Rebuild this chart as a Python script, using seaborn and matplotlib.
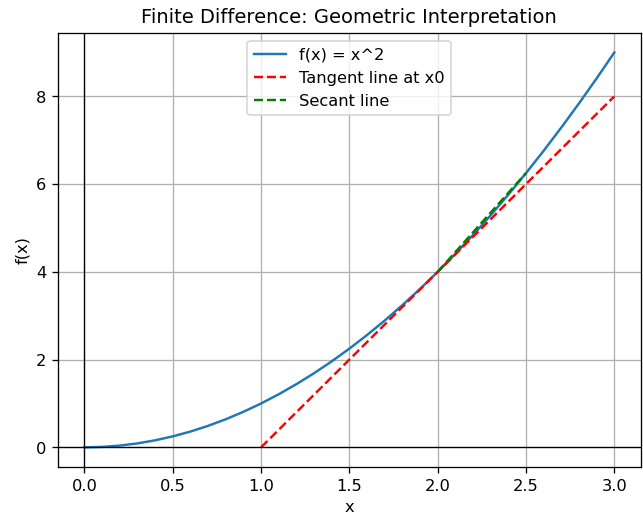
import numpy as np
import pandas as pd
import seaborn as sns
import matplotlib
matplotlib.use("Agg")
import matplotlib.pyplot as plt

# curve values (f(x) = x^2)
curve_x = [0.0, 0.1, 0.2, 0.3, 0.4, 0.5, 0.6, 0.7, 0.8, 0.9, 1.0,
           1.1, 1.2, 1.3, 1.4, 1.5, 1.6, 1.7, 1.8, 1.9, 2.0,
           2.1, 2.2, 2.3, 2.4, 2.5, 2.6, 2.7, 2.8, 2.9, 3.0]
curve_y = [0.0, 0.01, 0.04, 0.09, 0.16, 0.25, 0.36, 0.49, 0.64, 0.81, 1.0,
           1.21, 1.44, 1.69, 1.96, 2.25, 2.56, 2.89, 3.24, 3.61, 4.0,
           4.41, 4.84, 5.29, 5.76, 6.25, 6.76, 7.29, 7.84, 8.41, 9.0]

# tangent line at x0 = 2
tangent_x = [1.0, 3.0]
tangent_y = [0.0, 8.0]

# secant line from x0 to x0 + h
secant_x = [2.0, 2.5]
secant_y = [4.0, 6.25]

df_curve = pd.DataFrame({"x": curve_x, "y": curve_y})
df_tan = pd.DataFrame({"x": tangent_x, "y": tangent_y})
df_sec = pd.DataFrame({"x": secant_x, "y": secant_y})

fig, ax = plt.subplots(figsize=(5.5, 4.4), dpi=117.09)
fig.subplots_adjust(left=0.090, right=0.995, top=0.936, bottom=0.093)

sns.lineplot(data=df_curve, x="x", y="y", ax=ax, color="#1f77b4", label="f(x) = x^2")
sns.lineplot(data=df_tan, x="x", y="y", ax=ax, color="red", linestyle="--", label="Tangent line at x0")
sns.lineplot(data=df_sec, x="x", y="y", ax=ax, color="green", linestyle="--", label="Secant line")

ax.axhline(0, color="black", linewidth=0.8)
ax.axvline(0, color="black", linewidth=0.8)

ax.set_title("Finite Difference: Geometric Interpretation")
ax.set_xlabel("x")
ax.set_ylabel("f(x)")
ax.grid(True)
ax.legend(loc="upper center")

plt.savefig("out.png", dpi=117.09)
